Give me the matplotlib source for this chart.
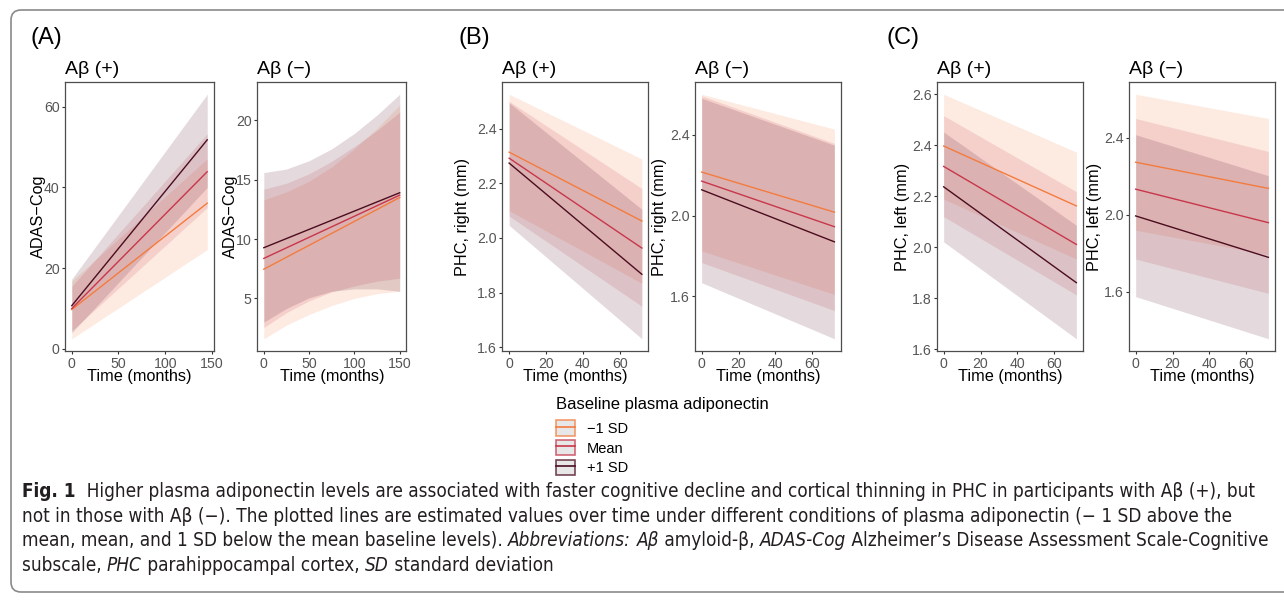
import matplotlib
matplotlib.use("Agg")
import matplotlib.pyplot as plt
from matplotlib.patches import FancyBboxPatch, Patch
from matplotlib.lines import Line2D

# ---------------- data ----------------
groups = ["\u22121 SD", "Mean", "+1 SD"]
colors = ["#F47B3E", "#C8364B", "#4B0C1F"]

# (A) ADAS-Cog, Abeta(+)
A_pos_t = [0, 145]
A_pos_fit = [[9.75, 36.1], [10.0, 43.9], [10.7, 51.8]]
A_pos_lo = [[2.5, 24.6], [4.5, 35.0], [4.0, 40.0]]
A_pos_hi = [[16.8, 47.1], [15.5, 53.3], [17.3, 63.1]]

# (A) ADAS-Cog, Abeta(-)
A_neg_t = [0, 150]
A_neg_fit = [[7.46, 13.5], [8.37, 13.7], [9.27, 13.9]]
A_neg_rt = [0, 25, 50, 75, 100, 125, 150]
A_neg_lo = [[1.6, 2.75, 3.65, 4.4, 5.0, 5.4, 5.6],
            [2.55, 3.8, 4.8, 5.55, 6.05, 6.45, 6.7],
            [3.0, 4.15, 5.05, 5.6, 5.8, 5.8, 5.6]]
A_neg_hi = [[13.3, 13.97, 14.87, 16.08, 17.59, 19.34, 21.3],
            [14.2, 14.7, 15.5, 16.55, 17.8, 19.15, 20.7],
            [15.6, 15.9, 16.6, 17.6, 18.9, 20.45, 22.2]]

# (B) PHC right
B_t = [0, 72]
B_pos_fit = [[2.314, 2.062], [2.292, 1.963], [2.274, 1.867]]
B_pos_lo = [[2.100, 1.834], [2.080, 1.750], [2.046, 1.631]]
B_pos_hi = [[2.526, 2.289], [2.500, 2.181], [2.495, 2.105]]
B_neg_fit = [[2.216, 2.017], [2.171, 1.945], [2.128, 1.870]]
B_neg_lo = [[1.825, 1.609], [1.767, 1.529], [1.667, 1.389]]
B_neg_hi = [[2.602, 2.429], [2.594, 2.358], [2.582, 2.349]]

# (C) PHC left
C_t = [0, 72]
C_pos_fit = [[2.397, 2.162], [2.317, 2.011], [2.237, 1.861]]
C_pos_lo = [[2.189, 1.954], [2.120, 1.813], [2.021, 1.641]]
C_pos_hi = [[2.600, 2.373], [2.516, 2.218], [2.452, 2.086]]
C_neg_fit = [[2.274, 2.138], [2.134, 1.960], [1.995, 1.780]]
C_neg_lo = [[1.921, 1.794], [1.771, 1.593], [1.576, 1.357]]
C_neg_hi = [[2.627, 2.501], [2.501, 2.330], [2.417, 2.204]]

xt_A = [0, 50, 100, 150]
xt_BC = [0, 20, 40, 60]
yt_Apos = [0, 20, 40, 60]
yt_Aneg = [5, 10, 15, 20]
yt_Bpos = [1.6, 1.8, 2.0, 2.2, 2.4]
yt_Bneg = [1.6, 2.0, 2.4]
yt_Cpos = [1.6, 1.8, 2.0, 2.2, 2.4, 2.6]
yt_Cneg = [1.6, 2.0, 2.4]

# ---------------- figure ----------------
W, H = 1284, 601
plt.rcParams["font.family"] = ["Liberation Sans", "DejaVu Sans"]
fig = plt.figure(figsize=(W / 100, H / 100), dpi=100)

TOP, BOT = 82, 351


def fx(x):
    return x / W


def fy(y):
    return 1 - y / H


def draw_panel(l, r, line_t, fits, rib_t, lows, ups, xticks, yticks, yfmt,
               ylabel, title, ylab_x):
    ax = fig.add_axes([fx(l), fy(BOT), (r - l) / W, (BOT - TOP) / H])
    for i in range(3):
        ax.fill_between(rib_t, lows[i], ups[i], color=colors[i], alpha=0.15,
                        lw=0)
    for i in range(3):
        ax.plot(line_t, fits[i], color=colors[i], lw=1.0)
    xs = list(rib_t) + list(line_t)
    x0, x1 = min(xs), max(xs)
    dx = 0.05 * (x1 - x0)
    ax.set_xlim(x0 - dx, x1 + dx)
    y0 = min(min(v) for v in lows)
    y1 = max(max(v) for v in ups)
    dy = 0.05 * (y1 - y0)
    ax.set_ylim(y0 - dy, y1 + dy)
    ax.set_xticks(xticks)
    ax.set_yticks(yticks)
    ax.set_yticklabels([yfmt.format(v) for v in yticks])
    ax.tick_params(direction="out", length=2.5, width=0.8, color="#333333",
                   labelsize=10.2, labelcolor="#555555", pad=1.5)
    for s in ax.spines.values():
        s.set_color("#4D4D4D")
        s.set_linewidth(0.9)
    fig.text(fx(l), fy(69), title, fontsize=14, ha="left", va="center")
    fig.text(fx((l + r) / 2), fy(377), "Time (months)", fontsize=11.7,
             ha="center", va="center")
    fig.text(fx(ylab_x), fy((TOP + BOT) / 2), ylabel, fontsize=11.7,
             rotation=90, ha="center", va="center")
    return ax


draw_panel(65, 214, A_pos_t, A_pos_fit, A_pos_t, A_pos_lo, A_pos_hi,
           xt_A, yt_Apos, "{:.0f}", "ADAS\u2212Cog", "A\u03b2 (+)", 38)
draw_panel(257, 406.5, A_neg_t, A_neg_fit, A_neg_rt, A_neg_lo, A_neg_hi,
           xt_A, yt_Aneg, "{:.0f}", "ADAS\u2212Cog", "A\u03b2 (\u2212)", 230)
draw_panel(502.5, 648.5, B_t, B_pos_fit, B_t, B_pos_lo, B_pos_hi,
           xt_BC, yt_Bpos, "{:.1f}", "PHC, right (mm)", "A\u03b2 (+)", 462)
draw_panel(695, 841, B_t, B_neg_fit, B_t, B_neg_lo, B_neg_hi,
           xt_BC, yt_Bneg, "{:.1f}", "PHC, right (mm)", "A\u03b2 (\u2212)", 660)
draw_panel(937, 1083, C_t, C_pos_fit, C_t, C_pos_lo, C_pos_hi,
           xt_BC, yt_Cpos, "{:.1f}", "PHC, left (mm)", "A\u03b2 (+)", 902)
draw_panel(1129, 1275, C_t, C_neg_fit, C_t, C_neg_lo, C_neg_hi,
           xt_BC, yt_Cneg, "{:.1f}", "PHC, left (mm)", "A\u03b2 (\u2212)", 1095)

for lab, x in [("(A)", 30), ("(B)", 458), ("(C)", 886)]:
    fig.text(fx(x), fy(38), lab, fontsize=17, ha="left", va="center")

# legend
handles = []
for c in colors:
    handles.append((Patch(facecolor="#E0E0E0", edgecolor=c, alpha=0.75, lw=1.2),
                    Line2D([], [], color=c, lw=1.2)))
leg = fig.legend(handles, groups, title="Baseline plasma adiponectin",
                 loc="upper left", bbox_to_anchor=(fx(556), fy(397)),
                 frameon=False, alignment="left", fontsize=10.5,
                 title_fontsize=12, handlelength=1.3, handleheight=1.25,
                 labelspacing=0.28, handletextpad=0.8, borderpad=0,
                 borderaxespad=0)
leg._legend_box.sep = 6

# frame
outer = FancyBboxPatch((11, 601 - 592), 1300, 582,
                       boxstyle="round,pad=0,rounding_size=10",
                       transform=None, fc="none", ec="#8A8A8A", lw=1.2)
fig.add_artist(outer)

# caption
cap_family = ["DejaVu Sans"]
lines = [
    [("Fig. 1", "bold"), ("  Higher plasma adiponectin levels are associated with faster cognitive decline and cortical thinning in PHC in participants with A\u03b2 (+), but", "normal")],
    [("not in those with A\u03b2 (\u2212). The plotted lines are estimated values over time under different conditions of plasma adiponectin (\u2212 1 SD above the", "normal")],
    [("mean, mean, and 1 SD below the mean baseline levels). ", "normal"), ("Abbreviations:", "italic"), (" ", "normal"), ("A\u03b2", "italic"), (" amyloid-\u03b2, ", "normal"), ("ADAS-Cog", "italic"), (" Alzheimer\u2019s Disease Assessment Scale-Cognitive", "normal")],
    [("subscale, ", "normal"), ("PHC", "italic"), (" parahippocampal cortex, ", "normal"), ("SD", "italic"), (" standard deviation", "normal")],
]
line_right = [1273, 1258, 1268, 560]
renderer = fig.canvas.get_renderer()


def make_text(x, y, s, style, size):
    kw = dict(fontsize=size, family=cap_family, stretch="condensed",
              color="#231F20", ha="left", va="baseline", transform=None)
    if style == "bold":
        kw["fontweight"] = "bold"
    elif style == "italic":
        kw["fontstyle"] = "italic"
    return fig.text(x, y, s, **kw)


def run_width(s, style, size):
    t1 = make_text(0, 0, "x" + s + "x", style, size)
    t2 = make_text(0, 0, "xx", style, size)
    w = t1.get_window_extent(renderer).width - t2.get_window_extent(renderer).width
    t1.remove()
    t2.remove()
    return w


base = 10.0
size = min(base * (rr - 22) / sum(run_width(s, st, base) for s, st in runs)
           for runs, rr in zip(lines, line_right))
baselines = [497, 522, 546, 571]
for runs, yb in zip(lines, baselines):
    x = 22
    for s, st in runs:
        make_text(x, H - yb, s, st, size)
        x += run_width(s, st, size)

fig.savefig("out.png", dpi=100)
